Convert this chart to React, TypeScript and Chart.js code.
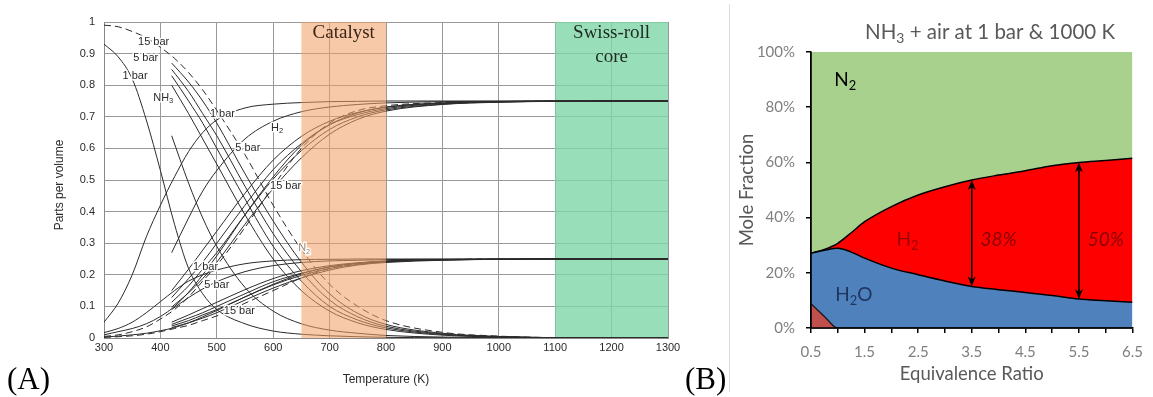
import React, { useEffect, useRef } from 'react';
import { Chart, registerables } from 'chart.js';

Chart.register(...registerables);

// ---------------- Panel A data (parts per volume vs temperature) ----------------
const TEMP_FULL = [300, 325, 350, 375, 400, 425, 450, 475, 500, 550, 600, 650, 700, 750, 800, 900, 1000, 1100, 1200, 1300];
const TEMP_LATE = [420, 450, 475, 500, 550, 600, 650, 700, 750, 800, 900, 1000, 1100, 1200, 1300];

const nh3OneBar = [0.93, 0.89, 0.82, 0.69, 0.53, 0.36, 0.22, 0.14, 0.09, 0.045, 0.022, 0.012, 0.007, 0.004, 0.002, 0.001, 0, 0, 0, 0];
const h2OneBar = [0.05, 0.11, 0.2, 0.32, 0.42, 0.51, 0.59, 0.65, 0.69, 0.728, 0.74, 0.745, 0.748, 0.749, 0.75, 0.75, 0.75, 0.75, 0.75, 0.75];
const n2OneBar = [0.017, 0.03, 0.05, 0.08, 0.115, 0.15, 0.18, 0.2, 0.215, 0.235, 0.244, 0.248, 0.249, 0.25, 0.25, 0.25, 0.25, 0.25, 0.25, 0.25];

const h2FiveBar = [0.01, 0.02, 0.03, 0.045, 0.068, 0.1, 0.145, 0.2, 0.26, 0.39, 0.51, 0.61, 0.675, 0.712, 0.731, 0.744, 0.748, 0.75, 0.75, 0.75];
const n2FiveBar = [0.003, 0.006, 0.01, 0.015, 0.023, 0.033, 0.048, 0.067, 0.087, 0.13, 0.17, 0.203, 0.225, 0.237, 0.244, 0.248, 0.249, 0.25, 0.25, 0.25];

const nh3FifteenBar = [0.99, 0.985, 0.97, 0.95, 0.92, 0.885, 0.84, 0.785, 0.72, 0.58, 0.42, 0.28, 0.17, 0.1, 0.055, 0.018, 0.006, 0.001, 0, 0];
const h2FifteenBar = [0.005, 0.01, 0.02, 0.035, 0.06, 0.09, 0.13, 0.18, 0.23, 0.35, 0.48, 0.6, 0.68, 0.72, 0.735, 0.745, 0.748, 0.75, 0.75, 0.75];
const n2FifteenBar = [0.002, 0.004, 0.007, 0.012, 0.02, 0.03, 0.04, 0.055, 0.07, 0.11, 0.15, 0.19, 0.22, 0.235, 0.243, 0.248, 0.25, 0.25, 0.25, 0.25];

const nh3LateB = [0.64, 0.49, 0.38, 0.29, 0.16, 0.085, 0.045, 0.025, 0.015, 0.008, 0.003, 0.001, 0, 0, 0];
const nh3LateC1 = [0.8, 0.71, 0.63, 0.55, 0.39, 0.25, 0.15, 0.085, 0.048, 0.027, 0.009, 0.003, 0.001, 0, 0];
const nh3LateC2 = [0.83, 0.75, 0.68, 0.6, 0.44, 0.29, 0.18, 0.1, 0.057, 0.032, 0.011, 0.004, 0.001, 0, 0];
const nh3LateC3 = [0.85, 0.78, 0.71, 0.64, 0.48, 0.33, 0.21, 0.12, 0.067, 0.037, 0.013, 0.004, 0.001, 0, 0];
const nh3LateC4 = [0.87, 0.81, 0.75, 0.68, 0.52, 0.37, 0.24, 0.14, 0.078, 0.043, 0.015, 0.005, 0.001, 0, 0];

const h2LateB = [0.27, 0.38, 0.465, 0.53, 0.63, 0.686, 0.716, 0.731, 0.739, 0.744, 0.748, 0.749, 0.75, 0.75, 0.75];
const h2LateC1 = [0.15, 0.218, 0.278, 0.338, 0.458, 0.563, 0.638, 0.686, 0.714, 0.73, 0.743, 0.748, 0.749, 0.75, 0.75];
const h2LateC2 = [0.128, 0.188, 0.24, 0.3, 0.42, 0.533, 0.615, 0.675, 0.707, 0.726, 0.742, 0.747, 0.749, 0.75, 0.75];
const h2LateC3 = [0.113, 0.165, 0.218, 0.27, 0.39, 0.503, 0.593, 0.66, 0.7, 0.722, 0.74, 0.747, 0.749, 0.75, 0.75];
const h2LateC4 = [0.098, 0.143, 0.188, 0.24, 0.36, 0.473, 0.57, 0.645, 0.692, 0.718, 0.739, 0.746, 0.749, 0.75, 0.75];

const n2LateB = [0.09, 0.128, 0.155, 0.178, 0.21, 0.229, 0.239, 0.244, 0.246, 0.248, 0.249, 0.25, 0.25, 0.25, 0.25];
const n2LateC1 = [0.05, 0.073, 0.093, 0.113, 0.153, 0.188, 0.213, 0.229, 0.238, 0.243, 0.248, 0.249, 0.25, 0.25, 0.25];
const n2LateC2 = [0.043, 0.063, 0.08, 0.1, 0.14, 0.178, 0.205, 0.225, 0.236, 0.242, 0.247, 0.249, 0.25, 0.25, 0.25];
const n2LateC3 = [0.038, 0.055, 0.073, 0.09, 0.13, 0.168, 0.198, 0.22, 0.233, 0.241, 0.247, 0.249, 0.25, 0.25, 0.25];
const n2LateC4 = [0.033, 0.048, 0.063, 0.08, 0.12, 0.158, 0.19, 0.215, 0.231, 0.239, 0.246, 0.249, 0.25, 0.25, 0.25];

const CATALYST_RANGE = [650, 800];
const SWISS_ROLL_RANGE = [1100, 1300];

const LABELS_A = [
  { text: '15 bar', t: 388, v: 0.937 },
  { text: '5 bar', t: 374, v: 0.885 },
  { text: '1 bar', t: 355, v: 0.83 },
  { text: 'NH_3', t: 405, v: 0.76 },
  { text: '1 bar', t: 510, v: 0.71 },
  { text: 'H_2', t: 607, v: 0.665 },
  { text: '5 bar', t: 555, v: 0.6 },
  { text: '15 bar', t: 622, v: 0.48 },
  { text: 'N_2', t: 655, v: 0.285 },
  { text: '1 bar', t: 480, v: 0.225 },
  { text: '5 bar', t: 500, v: 0.168 },
  { text: '15 bar', t: 540, v: 0.086 },
];

// ---------------- Panel B data (mole fraction vs equivalence ratio) ----------------
const PHI = [0.5, 0.75, 1.0, 1.25, 1.5, 2.0, 2.5, 3.0, 3.5, 4.0, 4.5, 5.0, 5.5, 6.0, 6.5];
const o2Pct = [8.8, 4.2, 0, 0, 0, 0, 0, 0, 0, 0, 0, 0, 0, 0, 0];
const h2oPct = [18.3, 24.0, 28.9, 27.5, 25.3, 21.7, 19.3, 17.0, 15.0, 13.9, 12.9, 11.8, 10.5, 9.9, 9.3];
const h2Pct = [0, 0.3, 1.8, 7.0, 13.2, 22.3, 28.9, 34.2, 38.6, 41.5, 44.1, 47.0, 49.5, 50.8, 52.2];
const n2Pct = [72.9, 71.5, 69.3, 65.5, 61.5, 56.0, 51.8, 48.8, 46.4, 44.6, 43.0, 41.2, 40.0, 39.3, 38.5];
const ARROW_PHI = [3.5, 5.5];
const LABELS_B = [
  { text: 'N_2', phi: 1.14, v: 90, color: '#000000', italic: false },
  { text: 'H_2', phi: 2.3, v: 32, color: '#9a0000', italic: false },
  { text: 'H_2O', phi: 1.3, v: 12, color: '#1f3560', italic: false },
  { text: '38%', phi: 4.0, v: 32, color: '#8a0000', italic: true },
  { text: '50%', phi: 6.0, v: 32, color: '#8a0000', italic: true },
];

// ---------------- helpers ----------------
const SANS_A = '"Liberation Sans", Arial, sans-serif';
const SERIF = '"Liberation Serif", "Times New Roman", serif';
const SANS_B = 'Lato, "Open Sans", sans-serif';

type Seg = [string, boolean];
function parseSegs(s: string): Seg[] {
  const out: Seg[] = [];
  const re = /_(\d)/g;
  let last = 0;
  let m: RegExpExecArray | null;
  while ((m = re.exec(s))) {
    if (m.index > last) out.push([s.slice(last, m.index), false]);
    out.push([m[1], true]);
    last = m.index + m[0].length;
  }
  if (last < s.length) out.push([s.slice(last), false]);
  return out;
}

function drawRich(ctx: CanvasRenderingContext2D, text: string, x: number, y: number, size: number, family: string, color: string, style = '', halo = false) {
  const segs = parseSegs(text);
  const sub = size * 0.68;
  let w = 0;
  for (const [t, s] of segs) {
    ctx.font = `${style} ${s ? sub : size}px ${family}`;
    w += ctx.measureText(t).width;
  }
  let cx = x - w / 2;
  ctx.textBaseline = 'middle';
  ctx.textAlign = 'left';
  for (const [t, s] of segs) {
    ctx.font = `${style} ${s ? sub : size}px ${family}`;
    const yy = s ? y + size * 0.32 : y;
    if (halo) {
      ctx.strokeStyle = 'rgba(255,255,255,0.95)';
      ctx.lineWidth = 3;
      ctx.lineJoin = 'round';
      ctx.strokeText(t, cx, yy);
    }
    ctx.fillStyle = color;
    ctx.fillText(t, cx, yy);
    cx += ctx.measureText(t).width;
  }
}

const panelAPlugin = {
  id: 'panelA',
  beforeDatasetsDraw(chart: any) {
    const { ctx, chartArea: a, scales } = chart;
    const x = scales.x;
    const x0 = x.getPixelForValue(SWISS_ROLL_RANGE[0]);
    const x1 = x.getPixelForValue(SWISS_ROLL_RANGE[1]);
    ctx.save();
    ctx.fillStyle = 'rgba(126,214,168,0.8)';
    ctx.fillRect(x0, a.top, x1 - x0, a.bottom - a.top);
    ctx.restore();
  },
  afterDatasetsDraw(chart: any) {
    const { ctx, chartArea: a, scales } = chart;
    const x = scales.x;
    const y = scales.y;
    ctx.save();
    const c0 = x.getPixelForValue(CATALYST_RANGE[0]);
    const c1 = x.getPixelForValue(CATALYST_RANGE[1]);
    ctx.fillStyle = 'rgba(240,158,100,0.56)';
    ctx.fillRect(c0, a.top, c1 - c0, a.bottom - a.top);

    // band titles
    drawRich(ctx, 'Catalyst', (c0 + c1) / 2, a.top + 11, 19, SERIF, '#3b2616');
    const s0 = x.getPixelForValue(SWISS_ROLL_RANGE[0]);
    const s1 = x.getPixelForValue(SWISS_ROLL_RANGE[1]);
    drawRich(ctx, 'Swiss-roll', (s0 + s1) / 2, a.top + 11, 19, SERIF, '#1d2a22');
    drawRich(ctx, 'core', (s0 + s1) / 2, a.top + 35, 19, SERIF, '#1d2a22');

    // curve labels
    for (const l of LABELS_A) {
      const px = x.getPixelForValue(l.t);
      const py = y.getPixelForValue(l.v);
      const faded = l.text === 'N_2';
      drawRich(ctx, l.text, px, py, 11, SANS_A, faded ? '#9a8470' : '#2a2a2a', '', true);
    }

    // axis titles
    ctx.save();
    ctx.translate(60, (a.top + a.bottom) / 2 + 5);
    ctx.rotate(-Math.PI / 2);
    drawRich(ctx, 'Parts per volume', 0, 0, 12, SANS_A, '#2a2a2a');
    ctx.restore();
    drawRich(ctx, 'Temperature (K)', x.getPixelForValue(800), 380, 12, SANS_A, '#2a2a2a');
    ctx.restore();
  },
};

const panelBPlugin = {
  id: 'panelB',
  afterDatasetsDraw(chart: any) {
    const { ctx, chartArea: a, scales } = chart;
    const x = scales.x;
    const y = scales.y;
    ctx.save();
    ctx.strokeStyle = '#000';
    ctx.lineWidth = 1.6;
    ctx.beginPath();
    ctx.moveTo(a.left, a.top);
    ctx.lineTo(a.left, a.bottom);
    ctx.lineTo(a.right, a.bottom);
    ctx.stroke();

    const lowMeta = chart.getDatasetMeta(1);
    const upMeta = chart.getDatasetMeta(2);
    for (const phi of ARROW_PHI) {
      const idx = PHI.indexOf(phi);
      const px = x.getPixelForValue(phi);
      const yLow = lowMeta.data[idx].y;
      const yUp = upMeta.data[idx].y;
      ctx.strokeStyle = '#000';
      ctx.fillStyle = '#000';
      ctx.lineWidth = 1.6;
      ctx.beginPath();
      ctx.moveTo(px, yLow - 6);
      ctx.lineTo(px, yUp + 6);
      ctx.stroke();
      const head = (tipY: number, dir: number) => {
        ctx.beginPath();
        ctx.moveTo(px, tipY);
        ctx.lineTo(px - 4, tipY + dir * 10);
        ctx.lineTo(px, tipY + dir * 7);
        ctx.lineTo(px + 4, tipY + dir * 10);
        ctx.closePath();
        ctx.fill();
      };
      head(yUp, 1);
      head(yLow, -1);
    }

    for (const l of LABELS_B) {
      drawRich(ctx, l.text, x.getPixelForValue(l.phi), y.getPixelForValue(l.v), 19, SANS_B, l.color, l.italic ? 'italic' : '');
    }

    drawRich(ctx, 'NH_3 + air at 1 bar & 1000 K', 290, 32, 20.5, SANS_B, '#595959');
    drawRich(ctx, 'Equivalence Ratio', (a.left + a.right) / 2, 374, 18.5, SANS_B, '#595959');
    ctx.save();
    ctx.translate(47, (a.top + a.bottom) / 2);
    ctx.rotate(-Math.PI / 2);
    drawRich(ctx, 'Mole Fraction', 0, 0, 18.5, SANS_B, '#595959');
    ctx.restore();
    ctx.restore();
  },
};

function lineSet(temps: number[], values: number[], dashed: boolean) {
  return {
    data: temps.map((t, i) => ({ x: t, y: values[i] })),
    borderColor: '#2b2b2b',
    borderWidth: 1,
    borderDash: dashed ? [7, 4] : [],
    pointRadius: 0,
    fill: false,
    cubicInterpolationMode: 'monotone' as const,
  };
}

export default function App() {
  const refA = useRef<HTMLCanvasElement | null>(null);
  const refB = useRef<HTMLCanvasElement | null>(null);

  useEffect(() => {
    if (!refA.current || !refB.current) return;
    const curves: [number[], number[], boolean][] = [
      [TEMP_FULL, nh3OneBar, false],
      [TEMP_FULL, h2OneBar, false],
      [TEMP_FULL, n2OneBar, false],
      [TEMP_FULL, h2FiveBar, false],
      [TEMP_FULL, n2FiveBar, false],
      [TEMP_FULL, nh3FifteenBar, true],
      [TEMP_FULL, h2FifteenBar, true],
      [TEMP_FULL, n2FifteenBar, true],
      [TEMP_LATE, nh3LateB, false],
      [TEMP_LATE, nh3LateC1, false],
      [TEMP_LATE, nh3LateC2, false],
      [TEMP_LATE, nh3LateC3, false],
      [TEMP_LATE, nh3LateC4, false],
      [TEMP_LATE, h2LateB, false],
      [TEMP_LATE, h2LateC1, false],
      [TEMP_LATE, h2LateC2, false],
      [TEMP_LATE, h2LateC3, false],
      [TEMP_LATE, h2LateC4, false],
      [TEMP_LATE, n2LateB, false],
      [TEMP_LATE, n2LateC1, false],
      [TEMP_LATE, n2LateC2, false],
      [TEMP_LATE, n2LateC3, false],
      [TEMP_LATE, n2LateC4, false],
    ];

    const chartA = new Chart(refA.current, {
      type: 'line',
      data: { datasets: curves.map(([t, v, d]) => lineSet(t, v, d)) as any },
      options: {
        animation: false,
        responsive: false,
        devicePixelRatio: 1,
        layout: { padding: { left: 0, top: 22, right: 32, bottom: 0 } },
        plugins: { legend: { display: false }, tooltip: { enabled: false } },
        scales: {
          x: {
            type: 'linear',
            min: 300,
            max: 1300,
            ticks: {
              stepSize: 100,
              autoSkip: false,
              maxRotation: 0,
              padding: 3,
              color: '#2a2a2a',
              font: { family: SANS_A, size: 11 },
              callback: (v: any) => String(Math.round(Number(v))),
            },
            grid: { color: '#999999', lineWidth: 1, drawTicks: false },
            border: { color: '#888888' },
            afterFit: (s: any) => { s.height = 59; },
          },
          y: {
            min: 0,
            max: 1,
            ticks: {
              stepSize: 0.1,
              padding: 9,
              color: '#2a2a2a',
              font: { family: SANS_A, size: 11 },
              callback: (v: any) => String(Math.round(Number(v) * 10) / 10),
            },
            grid: { color: '#999999', lineWidth: 1, drawTicks: false },
            border: { color: '#888888' },
            afterFit: (s: any) => { s.width = 104; },
          },
        },
      } as any,
      plugins: [panelAPlugin],
    });

    const mk = (vals: number[]) => PHI.map((p, i) => ({ x: p, y: vals[i] }));
    const chartB = new Chart(refB.current, {
      type: 'line',
      data: {
        datasets: [
          { data: mk(o2Pct), backgroundColor: '#c0504d', borderColor: '#1a1a1a', borderWidth: 1.3, fill: 'origin', pointRadius: 0, cubicInterpolationMode: 'monotone' },
          { data: mk(h2oPct), backgroundColor: '#4f81bd', borderColor: '#000', borderWidth: 1.5, fill: '-1', pointRadius: 0, cubicInterpolationMode: 'monotone' },
          { data: mk(h2Pct), backgroundColor: '#ff0000', borderColor: '#000', borderWidth: 1.5, fill: '-1', pointRadius: 0, cubicInterpolationMode: 'monotone' },
          { data: mk(n2Pct), backgroundColor: '#a9d18e', borderColor: 'rgba(0,0,0,0)', borderWidth: 0, fill: '-1', pointRadius: 0, cubicInterpolationMode: 'monotone' },
        ] as any,
      },
      options: {
        animation: false,
        responsive: false,
        devicePixelRatio: 1,
        layout: { padding: { left: 0, top: 52, right: 13, bottom: 0 } },
        plugins: { legend: { display: false }, tooltip: { enabled: false } },
        scales: {
          x: {
            type: 'linear',
            min: 0.5,
            max: 6.5,
            ticks: {
              stepSize: 0.5,
              autoSkip: false,
              maxRotation: 0,
              padding: 10,
              color: '#7f7f7f',
              font: { family: SANS_B, size: 15 },
              callback: (v: any) => {
                const n = Number(v);
                return Math.abs((n - 0.5) % 1) < 1e-6 ? n.toFixed(1) : '';
              },
            },
            grid: { drawOnChartArea: false, drawTicks: true, tickLength: 5, color: '#000', lineWidth: 1.5 },
            border: { color: '#000', width: 1.5 },
            afterFit: (s: any) => { s.height = 69; },
          },
          y: {
            stacked: true,
            min: 0,
            max: 100,
            ticks: {
              stepSize: 20,
              padding: 11,
              color: '#7f7f7f',
              font: { family: SANS_B, size: 15 },
              callback: (v: any) => `${v}%`,
            },
            grid: { drawOnChartArea: false, drawTicks: true, tickLength: 5, color: '#000', lineWidth: 1.5 },
            border: { color: '#000', width: 1.5 },
            afterFit: (s: any) => { s.width = 111; },
          },
        },
      } as any,
      plugins: [panelBPlugin],
    });

    return () => {
      chartA.destroy();
      chartB.destroy();
    };
  }, []);

  return (
    <div style={{ position: 'fixed', left: 0, top: 0, width: 1153, height: 397, background: '#fff', overflow: 'hidden' }}>
      <canvas ref={refA} width={700} height={397} style={{ position: 'absolute', left: 0, top: 0, width: 700, height: 397 }} />
      <canvas ref={refB} width={453} height={397} style={{ position: 'absolute', left: 700, top: 0, width: 453, height: 397 }} />
      <div style={{ position: 'absolute', left: 729, top: 4, width: 1, height: 388, background: '#dcdcdc' }} />
      <div style={{ position: 'absolute', left: 7, top: 363, fontFamily: SERIF, fontSize: 31, lineHeight: '31px', color: '#000' }}>(A)</div>
      <div style={{ position: 'absolute', left: 685, top: 363, fontFamily: SERIF, fontSize: 31, lineHeight: '31px', color: '#000' }}>(B)</div>
    </div>
  );
}
